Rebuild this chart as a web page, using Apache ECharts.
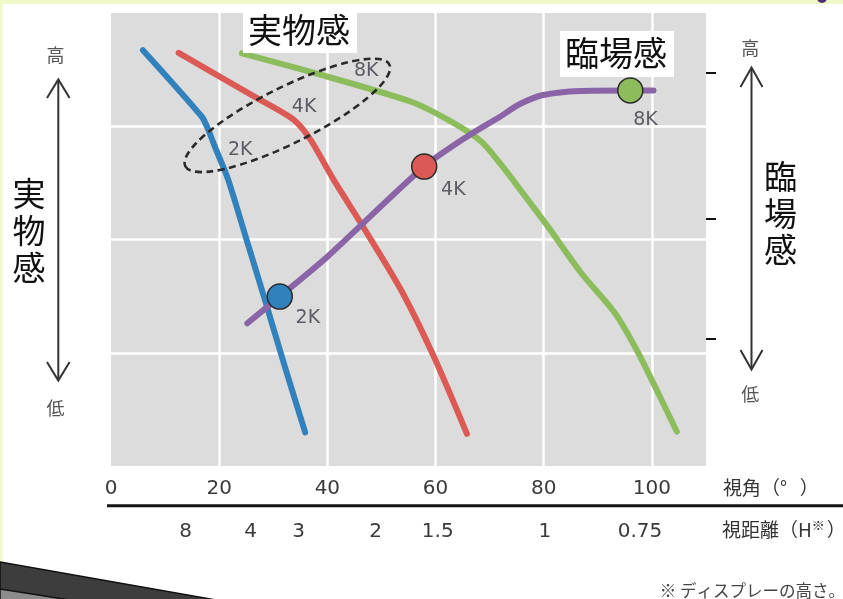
<!DOCTYPE html>
<html>
<head>
<meta charset="utf-8">
<script src="https://cdn.jsdelivr.net/npm/echarts@6/dist/echarts.min.js"></script>
<style>
html,body{margin:0;padding:0;background:#fff;}
#c{width:843px;height:599px;}
</style>
</head>
<body>
<div id="c"></div>
<script>
// ---- data ----
const blue2K = [[5.9,91.8],[16.8,77.1],[18.0,74.2],[19.2,70.5],[21.7,63.1],[25.0,50.2],[28.5,36.5],[32.0,22.5],[35.9,7.4]];
const red4K = [[12.5,91.2],[27.0,81.2],[33.8,76.4],[36.9,72.0],[41.2,63.1],[46.2,53.6],[53.6,38.9],[59.7,24.1],[65.8,7.1]];
const green8K = [[24.2,91.1],[36.9,87.0],[55.5,80.4],[62.9,76.0],[68.5,71.6],[72.2,66.4],[75.9,60.6],[80.8,52.8],[87.0,42.5],[93.2,33.7],[97.5,24.9],[101.2,16.0],[104.6,7.6]];
const presenceLine = [[25.2,31.5],[31.2,37.4],[40.0,46.2],[57.9,66.1],[65.8,72.7],[71.9,77.1],[75.6,79.9],[79.9,81.9],[86.7,82.8],[96.0,82.9],[100.3,82.9]];
const markerPoints = [[31.2,37.4],[57.9,66.1],[96.0,82.9]];
const annotationLabels = [[23.9,69.8,'2K'],[35.7,79.3,'4K'],[47.2,87.2,'8K'],[36.4,32.6,'2K'],[63.3,60.9,'4K'],[98.8,76.4,'8K']];
const ellipseCenter = [[32.6,77.4]];
const distanceLabels = ['8','4','3','2','1.5','1','0.75'];
const distanceAngles = [13.8,25.8,34.7,48.9,60.4,80.2,97.8];
const rightTickValues = [86.8,54.5,28.1];

// ---- styles ----
const C_BLUE = '#3181bd', C_RED = '#dc5a55', C_GREEN = '#8cbc5c', C_PURPLE = '#8a64a6';
const markerColors = [C_BLUE, C_RED, C_GREEN];
const NUM_FONT = 'DejaVu Sans';
const JP_FONT = '"Noto Sans CJK JP"';

const chart = echarts.init(document.getElementById('c'), null, {renderer:'canvas'});

function lineSeries(data, color){
  return {type:'line', data:data, smooth:0.25, symbol:'none', silent:true,
    lineStyle:{color:color, width:6, cap:'round', join:'round'}};
}

const option = {
  backgroundColor:'#ffffff',
  animation:false,
  grid:{left:111, right:137, top:13, bottom:133, show:true, backgroundColor:'#dcdcdc', borderWidth:0},
  xAxis:[
    {type:'value', min:0, max:110, interval:20, position:'bottom',
      axisLine:{show:false}, axisTick:{show:false},
      axisLabel:{margin:13, fontSize:20, color:'#3a3a3a', fontFamily:NUM_FONT, showMaxLabel:false},
      splitLine:{show:true, showMinLine:false, showMaxLine:false, lineStyle:{color:'#ffffff', width:2.5}}},
    {type:'value', min:0, max:110, position:'bottom', offset:40,
      axisLine:{show:false, onZero:false}, axisTick:{show:false}, splitLine:{show:false},
      axisLabel:{margin:16, fontSize:20, color:'#3a3a3a', fontFamily:NUM_FONT,
        customValues:distanceAngles,
        formatter:function(v){
          let best=-1, bd=1e9;
          distanceAngles.forEach(function(a,i){const d=Math.abs(a-v); if(d<bd){bd=d;best=i;}});
          return bd<0.5 ? distanceLabels[best] : '';
        }}}
  ],
  yAxis:[
    {type:'value', min:0, max:100, interval:25,
      axisLine:{show:false}, axisTick:{show:false}, axisLabel:{show:false},
      splitLine:{show:true, showMinLine:false, showMaxLine:false, lineStyle:{color:'#ffffff', width:2.5}}},
    {type:'value', min:0, max:100, position:'right',
      axisLine:{show:false, onZero:false}, splitLine:{show:false}, axisLabel:{show:false},
      axisTick:{show:true, inside:false, length:10, customValues:rightTickValues, lineStyle:{color:'#111', width:2}}}
  ],
  series:[
    lineSeries(blue2K, C_BLUE),
    lineSeries(red4K, C_RED),
    lineSeries(green8K, C_GREEN),
    lineSeries(presenceLine, C_PURPLE),
    {type:'custom', data:ellipseCenter, silent:true, z:5,
      renderItem:function(params, api){
        const c = api.coord([api.value(0), api.value(1)]);
        const a = 114, b = 28;
        return {type:'path', x:c[0], y:c[1], rotation:26.5*Math.PI/180,
          shape:{pathData:'M '+(-a)+' 0 A '+a+' '+b+' 0 1 0 '+a+' 0 A '+a+' '+b+' 0 1 0 '+(-a)+' 0 Z'},
          style:{fill:null, stroke:'#2a2a2a', lineWidth:2.6, lineDash:[7,4.5]}};
      }},
    {type:'scatter', data:markerPoints.map(function(p,i){return {value:p, itemStyle:{color:markerColors[i]}};}),
      symbolSize:25, z:6, silent:true,
      itemStyle:{borderColor:'#2b2b2b', borderWidth:1.5, opacity:1}},
    {type:'scatter', data:annotationLabels.map(function(p){return {value:[p[0],p[1]], name:p[2]};}),
      symbolSize:1, z:7, silent:true, itemStyle:{color:'rgba(0,0,0,0)'},
      label:{show:true, position:'inside', formatter:'{b}', fontSize:19, color:'#3b3b46', fontFamily:NUM_FONT}}
  ],
  graphic:[
    {type:'rect', shape:{x:0, y:0, width:843, height:4}, style:{fill:'#eef8c8'}, silent:true},
    {type:'rect', shape:{x:0, y:0, width:2.5, height:565}, style:{fill:'#eef8c8'}, silent:true},
    {type:'circle', shape:{cx:822, cy:-2, r:5}, style:{fill:'#4b2d78'}, silent:true},
    // bottom axis separator
    {type:'line', shape:{x1:107, y1:505.7, x2:843, y2:505.7}, style:{stroke:'#141414', lineWidth:3}, silent:true},
    // axis names
    {type:'text', x:723, y:488, style:{text:'視角（°   ）', font:'19px '+JP_FONT, fill:'#333', verticalAlign:'middle', align:'left'}, silent:true},
    {type:'text', x:722, y:530, style:{text:'視距離（H{s|※}）', rich:{s:{fontSize:13, verticalAlign:'top', padding:[0,2,10,0], fontFamily:'Noto Sans CJK JP', fill:'#333'}}, font:'19px '+JP_FONT, fill:'#333', verticalAlign:'middle', align:'left'}, silent:true},
    {type:'text', x:845, y:591, style:{text:'※ ディスプレーの高さ。', font:'16.5px '+JP_FONT, fill:'#444', verticalAlign:'middle', align:'right'}, silent:true},
    // left arrow
    {type:'text', x:55.5, y:55, style:{text:'高', font:'18px '+JP_FONT, fill:'#555', align:'center', verticalAlign:'middle'}, silent:true},
    {type:'text', x:55.5, y:408, style:{text:'低', font:'18px '+JP_FONT, fill:'#555', align:'center', verticalAlign:'middle'}, silent:true},
    {type:'line', shape:{x1:58.3, y1:80, x2:58.3, y2:380}, style:{stroke:'#333', lineWidth:2}, silent:true},
    {type:'polyline', shape:{points:[[47,98],[58.3,79.5],[69.6,98]]}, style:{stroke:'#333', lineWidth:2, fill:null}, silent:true},
    {type:'polyline', shape:{points:[[47,362],[58.3,380.5],[69.6,362]]}, style:{stroke:'#333', lineWidth:2, fill:null}, silent:true},
    {type:'text', x:29, y:230, style:{text:'実\n物\n感', font:'33px '+JP_FONT, lineHeight:37, fill:'#111', align:'center', verticalAlign:'middle'}, silent:true},
    // right arrow
    {type:'text', x:750.3, y:48, style:{text:'高', font:'18px '+JP_FONT, fill:'#555', align:'center', verticalAlign:'middle'}, silent:true},
    {type:'text', x:750.3, y:394, style:{text:'低', font:'18px '+JP_FONT, fill:'#555', align:'center', verticalAlign:'middle'}, silent:true},
    {type:'line', shape:{x1:751.5, y1:68, x2:751.5, y2:369}, style:{stroke:'#333', lineWidth:2}, silent:true},
    {type:'polyline', shape:{points:[[740.5,87],[751.5,67.5],[762.5,87]]}, style:{stroke:'#333', lineWidth:2, fill:null}, silent:true},
    {type:'polyline', shape:{points:[[740.5,350],[751.5,369.5],[762.5,350]]}, style:{stroke:'#333', lineWidth:2, fill:null}, silent:true},
    {type:'text', x:780.5, y:213, style:{text:'臨\n場\n感', font:'33px '+JP_FONT, lineHeight:36.5, fill:'#111', align:'center', verticalAlign:'middle'}, silent:true},
    // top labels
    {type:'rect', shape:{x:243, y:13, width:114, height:40}, style:{fill:'#ffffff'}, z:100, silent:true},
    {type:'text', x:299, y:30, style:{text:'実物感', font:'34px '+JP_FONT, fill:'#111', align:'center', verticalAlign:'middle'}, z:101, silent:true},
    {type:'rect', shape:{x:560, y:31, width:114, height:46}, style:{fill:'#ffffff'}, z:100, silent:true},
    {type:'text', x:616, y:53, style:{text:'臨場感', font:'34px '+JP_FONT, fill:'#111', align:'center', verticalAlign:'middle'}, z:101, silent:true},
    // bottom-left slide decoration
    {type:'polygon', shape:{points:[[0,562],[216,600],[0,600]]}, style:{fill:'#3d3d3d', stroke:'#111', lineWidth:1.5}, silent:true},
    {type:'polygon', shape:{points:[[0,589],[70,600],[0,600]]}, style:{fill:'#8c8c8c', stroke:'#111', lineWidth:1.5}, silent:true}
  ]
};
chart.setOption(option);
</script>
</body>
</html>
